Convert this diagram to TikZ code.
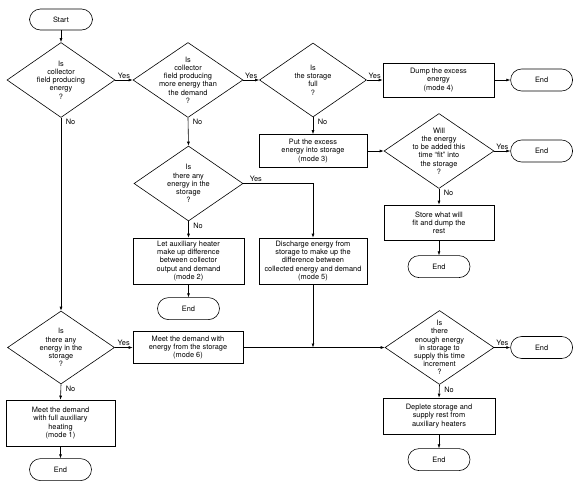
\documentclass[tikz,border=0pt]{standalone}
\usepackage{fontspec}
\setmainfont{TeX Gyre Heros}
\usetikzlibrary{shapes.geometric, arrows.meta, positioning}

\begin{document}
\begin{tikzpicture}[
    x=1pt, y=-1pt,
    node distance=13pt and 16pt,
    % Box Styles
    base/.style={
        align=center,
        font=\fontsize{7.4}{8.2}\selectfont,
        inner sep=1pt
    },
    procBox/.style={
        base,
        draw,
        line width=0.6pt,
        minimum width=110pt
    },
    termBox/.style={
        base,
        draw,
        line width=0.6pt,
        rounded corners=11pt,
        minimum width=62pt,
        minimum height=22pt
    },
    decision/.style={
        diamond,
        draw,
        line width=0.6pt,
        inner sep=0pt,
        minimum width=108pt,
        minimum height=75pt
    },
    qText/.style={
        base,
        inner sep=0pt
    },
    % Line Styles
    connector/.style={
        -{Latex[length=4pt,width=3pt]},
        line width=0.6pt
    },
    % Text Styles
    yesLabel/.style={
        base,
        above,
        inner sep=1.5pt
    },
    noLabel/.style={
        base,
        anchor=north west,
        inner sep=1.5pt,
        xshift=3pt
    }
]

    \useasboundingbox (0,0) rectangle (579,488);

    % --- COLUMN 1: COLLECTOR CHECK ---
    \node[termBox, minimum width=63pt, minimum height=21pt] (start) at (61,19.5) {Start};

    \node[decision] (d1) at (61,80) {};
    \node[qText] (d1t) at (d1) {Is\\collector\\field producing\\energy\\?};

    \node[decision, minimum width=107pt, minimum height=73pt] (d6) at (61,347.5) {};
    \node[qText] (d6t) at (d6) {Is\\there any\\energy in the\\storage\\?};

    \node[procBox, minimum width=109pt, minimum height=46pt] (m1) at (60.5,423) {Meet the demand\\with full auxiliary\\heating\\(mode 1)};
    \node[termBox, below=12pt of m1] (end6) {End};

    % --- COLUMN 2: DEMAND CHECK ---
    \node[decision, minimum width=110pt] (d2) at (188,80) {};
    \node[qText] (d2t) at (d2) {Is\\collector\\field producing\\more energy than\\the demand\\?};

    \node[decision, minimum width=109pt] (d5) at (188.5,183.5) {};
    \node[qText] (d5t) at (d5) {Is\\there any\\energy in the\\storage\\?};

    \node[procBox, minimum width=111pt, minimum height=46pt] (m2) at (188.5,261) {Let auxiliary heater\\make up difference\\between collector\\output and demand\\(mode 2)};
    \node[termBox, below=13pt of m2] (end4) {End};

    \node[procBox, minimum height=32pt] (m6) at (188,347.5) {Meet the demand with\\energy from the storage\\(mode 6)};

    % --- COLUMN 3: STORAGE CHECK ---
    \node[decision, minimum width=107pt, minimum height=74pt] (d3) at (313,80) {};
    \node[qText] (d3t) at (d3) {Is\\the storage\\full\\?};

    \node[procBox, minimum width=108pt, minimum height=33pt] (m3) at (313,151) {Put the excess\\energy into storage\\(mode 3)};

    \node[procBox, minimum width=108pt, minimum height=46pt] (m5) at (313,261) {Discharge energy from\\storage to make up the\\difference between\\collected energy and demand\\(mode 5)};

    % --- COLUMN 4: EXCESS AND DEPLETION ---
    \node[procBox, minimum width=111pt, minimum height=34pt] (dump) at (438.5,80) {Dump the excess\\energy\\(mode 4)};
    \node[termBox, right=16pt of dump] (end1) {End};

    \node[decision, minimum width=110pt] (d4) at (439,151) {};
    \node[qText] (d4t) at (d4) {Will\\the energy\\to be added this\\time ``fit'' into\\the storage\\?};
    \node[termBox, right=16pt of d4] (end2) {End};

    \node[procBox, minimum height=35pt] (store) at (439,222.5) {Store what will\\fit and dump the\\rest};
    \node[termBox, below=15pt of store] (end3) {End};

    \node[decision, minimum width=109pt, minimum height=74pt] (d7) at (439.5,347.5) {};
    \node[qText] (d7t) at (d7) {Is\\there\\enough energy\\in storage to\\supply this time\\increment\\?};
    \node[termBox, right=16pt of d7] (end5) {End};

    \node[procBox, minimum width=112pt, minimum height=36pt] (deplete) at (439,416) {Deplete storage and\\supply rest from\\auxiliary heaters};
    \node[termBox, below=14pt of deplete] (end7) {End};

    % --- CONNECTIONS ---
    \draw[connector] (start) -- (d1);
    \draw[connector] (d1.east) -- node[yesLabel]{Yes} (d2.west);
    \draw[connector] (d1.south) -- node[noLabel, at start]{No} (d6.north);
    \draw[connector] (d2.east) -- node[yesLabel]{Yes} (d3.west);
    \draw[connector] (d2.south) -- node[noLabel, at start]{No} (d5.north);
    \draw[connector] (d3.east) -- node[yesLabel]{Yes} (dump.west);
    \draw[connector] (d3.south) -- node[noLabel, at start]{No} (m3.north);
    \draw[connector] (dump) -- (end1);
    \draw[connector] (m3.east) -- (d4.west);
    \draw[connector] (d4.east) -- node[yesLabel]{Yes} (end2.west);
    \draw[connector] (d4.south) -- node[noLabel, at start]{No} (store.north);
    \draw[connector] (store) -- (end3);

    \draw[connector] (d5.east) -| node[yesLabel, pos=0.09]{Yes} (m5.north);
    \draw[connector] (d5.south) -- node[noLabel, at start]{No} (m2.north);
    \draw[connector] (m2) -- (end4);

    % mode 5 joins the mode 6 line
    \draw[connector] (m5.south) -- (m5.south |- m6.east);

    \draw[connector] (d6.east) -- node[yesLabel]{Yes} (m6.west);
    \draw[connector] (d6.south) -- node[noLabel, at start]{No} (m1.north);
    \draw[connector] (m1) -- (end6);
    \draw[connector] (m6.east) -- (d7.west);
    \draw[connector] (d7.east) -- node[yesLabel]{Yes} (end5.west);
    \draw[connector] (d7.south) -- node[noLabel, at start]{No} (deplete.north);
    \draw[connector] (deplete) -- (end7);

\end{tikzpicture}
\end{document}
